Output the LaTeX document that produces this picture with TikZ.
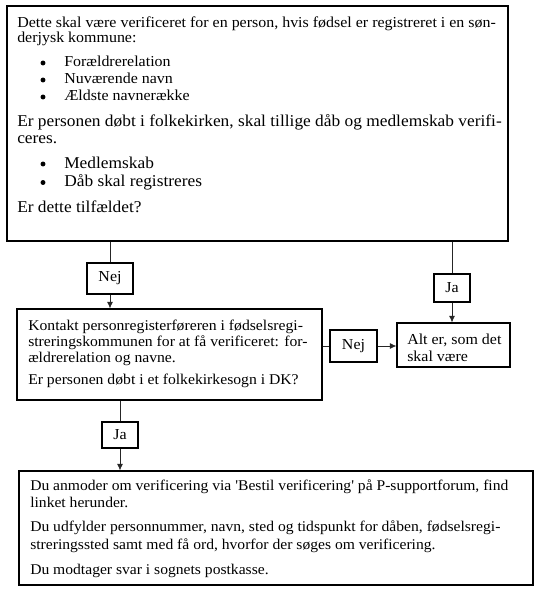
\documentclass[tikz,border=0pt]{standalone}
\usepackage{fontspec}
\newfontfamily\mf{Liberation Serif}[FakeStretch=1.05]
\usetikzlibrary{arrows.meta}
\begin{document}
\begin{tikzpicture}[x=0.75pt,y=-0.75pt,
  box/.style={draw=black,line width=0.8pt,inner sep=0pt},
  lbl/.style={draw=black,line width=0.8pt,inner sep=0pt,font=\mf\fontsize{11.4}{13}\selectfont},
  conn/.style={draw=black!85,line width=0.6pt},
  arr/.style={conn,-{Latex[length=5pt,width=4.5pt]}},
  ln/.style={anchor=base west,inner sep=0pt},
  fa/.style={font=\mf\fontsize{11.4}{13}\selectfont},
  fb/.style={font=\mf\fontsize{12.4}{14}\selectfont},
  fm/.style={font=\mf\fontsize{11.2}{13}\selectfont},
  fu/.style={font=\mf\fontsize{11.15}{13}\selectfont},
  fl/.style={font=\mf\fontsize{11.4}{13}\selectfont},
  bul/.style={circle,fill=black,inner sep=0pt,minimum size=3.7pt}]
\useasboundingbox (0,0) rectangle (540,595);
% boxes
\node[box,minimum width=375.75pt,minimum height=176.25pt] (top) at (257.5,123.5) {};
\node[box,minimum width=228.75pt,minimum height=68.25pt] (mid) at (169.5,354.5) {};
\node[box,minimum width=84.75pt,minimum height=33pt] (alt) at (453.5,345) {};
\node[box,minimum width=385.5pt,minimum height=85.5pt] (bot) at (276,528) {};
% labels
\node[lbl,minimum width=34.5pt,minimum height=23.25pt] (nej1) at (110,278.5) {Nej};
\node[lbl,minimum width=27pt,minimum height=21pt] (ja1) at (452,288) {Ja};
\node[lbl,minimum width=35.25pt,minimum height=24pt] (nej2) at (353.5,346) {Nej};
\node[lbl,minimum width=27pt,minimum height=19.5pt] (ja2) at (120,435) {Ja};
% connectors
\draw[conn] (top.south -| nej1.north) -- (nej1.north);
\draw[arr] (nej1.south) -- (nej1.south |- mid.north);
\draw[conn] (top.south -| ja1.north) -- (ja1.north);
\draw[arr] (ja1.south) -- (ja1.south |- alt.north);
\draw[conn] (mid.east |- nej2.west) -- (nej2.west);
\draw[arr] (nej2.east) -- (nej2.east -| alt.west);
\draw[conn] (ja2.north |- mid.south) -- (ja2.north);
\draw[arr] (ja2.south) -- (ja2.south |- bot.north);
% top box text
\node[ln,fa] (t1) at (17,28) {Dette skal være verificeret for en person, hvis fødsel er registreret i en søn-};
\node[ln,fa] (t2) at (17,43) {derjysk kommune:};
\node[bul] (b1) at (43,63) {};
\node[ln,fa] (t3) at (64,67) {Forældrerelation};
\node[bul] (b2) at (43,80) {};
\node[ln,fa] (t4) at (64,84) {Nuværende navn};
\node[bul] (b3) at (43,97) {};
\node[ln,fa] (t5) at (64,101) {Ældste navnerække};
\node[ln,fb] (t6) at (17,126.5) {Er personen døbt i folkekirken, skal tillige dåb og medlemskab verifi-};
\node[ln,fb] (t7) at (17,144) {ceres.};
\node[bul] (b4) at (43,164) {};
\node[ln,fb] (t8) at (64,168.5) {Medlemskab};
\node[bul] (b5) at (43,182.5) {};
\node[ln,fb] (t9) at (64,187) {Dåb skal registreres};
\node[ln,fb] (t10) at (17,213) {Er dette tilfældet?};
% mid box text
\node[ln,fm] (m1) at (28,330) {Kontakt personregisterføreren i fødselsregi-};
\node[ln,fm] (m2) at (28,346) {streringskommunen for at få verificeret: for-};
\node[ln,fm] (m3) at (28,362) {ældrerelation og navne.};
\node[ln,fm] (m4) at (28,384) {Er personen døbt i et folkekirkesogn i DK?};
% alt box text
\node[ln,fl] (a1) at (407,344) {Alt er, som det};
\node[ln,fl] (a2) at (407,361) {skal være};
% bottom box text
\node[ln,fu] (u1) at (30,490) {Du anmoder om verificering via 'Bestil verificering' på P-supportforum, find};
\node[ln,fu] (u2) at (30,507) {linket herunder.};
\node[ln,fu] (u3) at (30,531) {Du udfylder personnummer, navn, sted og tidspunkt for dåben, fødselsregi-};
\node[ln,fu] (u4) at (30,549) {streringssted samt med få ord, hvorfor der søges om verificering.};
\node[ln,fu] (u5) at (30,574) {Du modtager svar i sognets postkasse.};
\end{tikzpicture}
\end{document}
